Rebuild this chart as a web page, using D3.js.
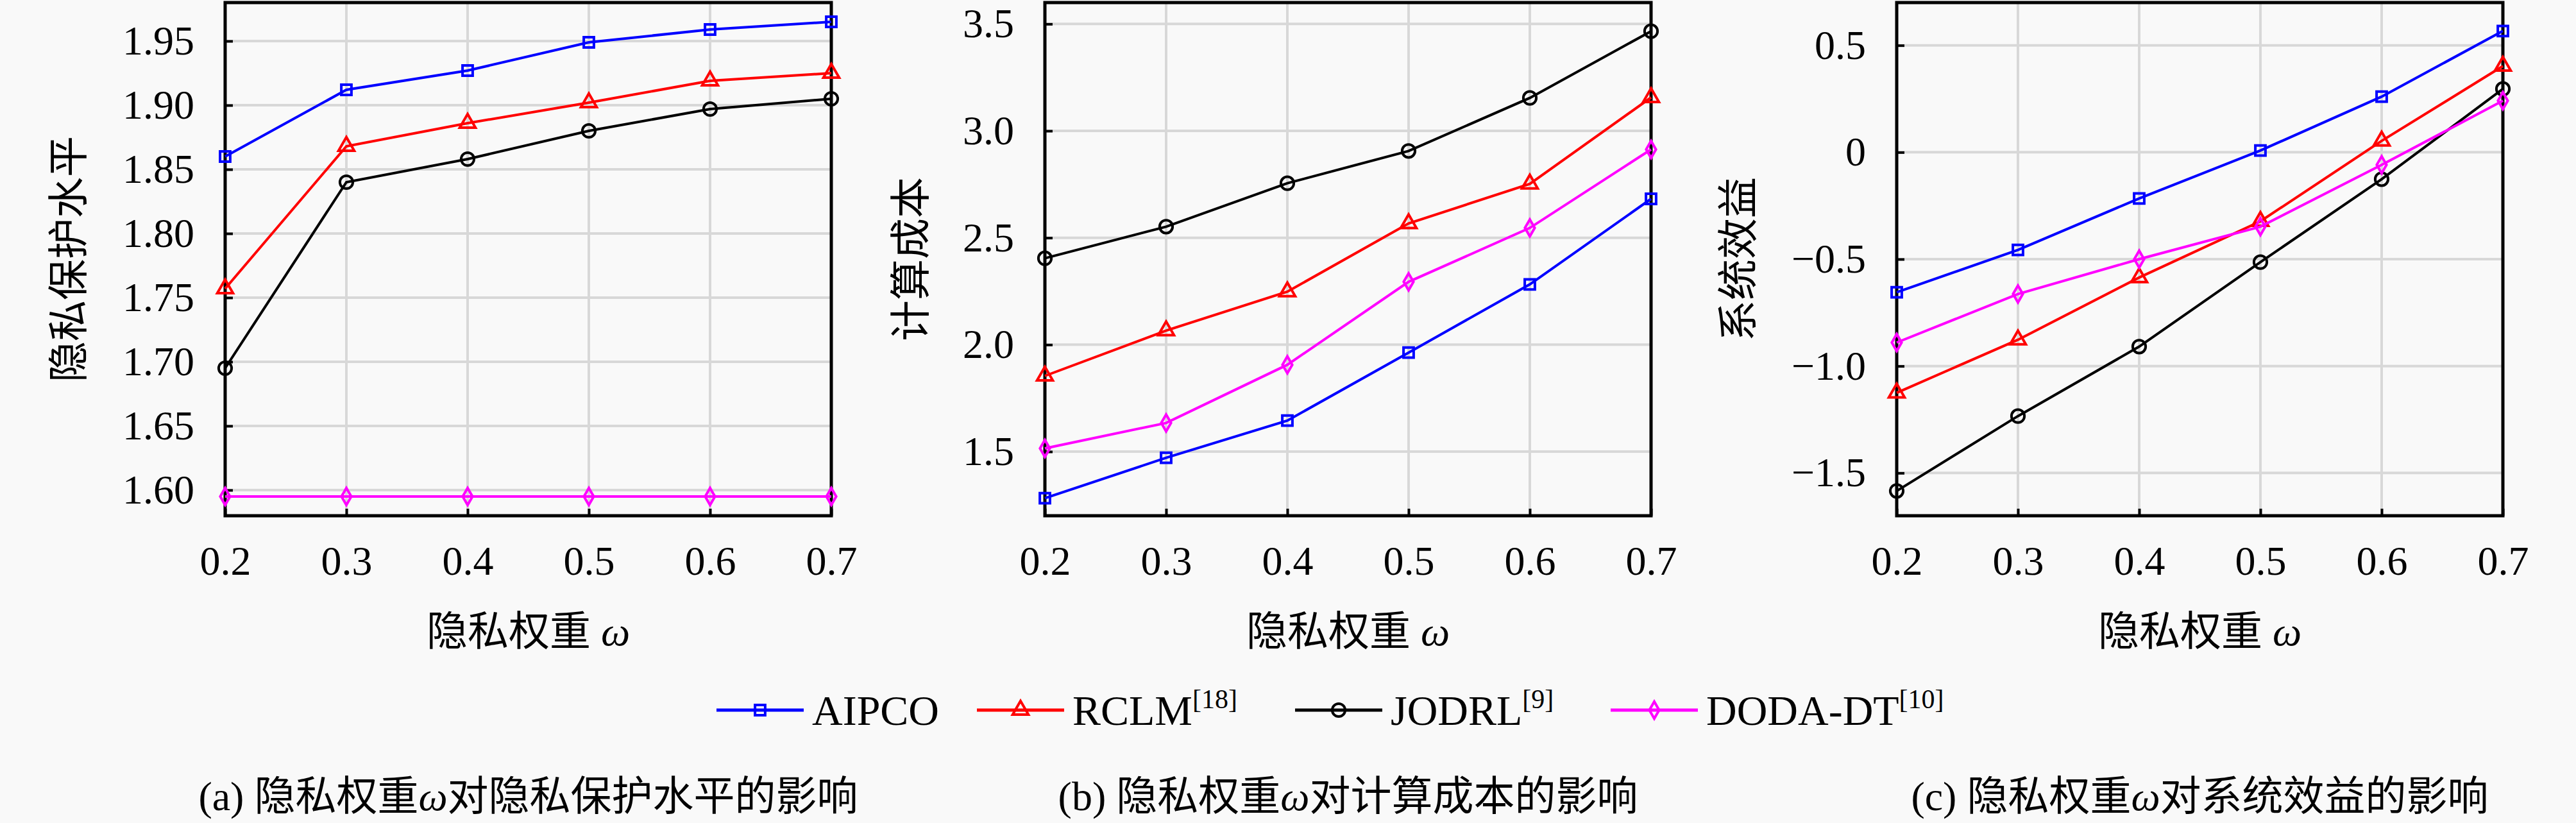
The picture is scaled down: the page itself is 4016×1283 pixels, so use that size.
<!DOCTYPE html>
<html>
<head>
<meta charset="utf-8">
<script src="https://cdn.jsdelivr.net/npm/d3@7"></script>
<style>
  body { margin: 0; background: #f9f9f9; }
  svg { display: block; background: #f9f9f9; }
</style>
</head>
<body>
<div id="chart"></div>
<script>
/* Data */
const omega = [0.2, 0.3, 0.4, 0.5, 0.6, 0.7];
const xTickLabels = ["0.2", "0.3", "0.4", "0.5", "0.6", "0.7"];

const methods = ["AIPCO", "RCLM", "JODRL", "DODA-DT"];
const methodRefs = ["", "[18]", "[9]", "[10]"];

// (a) privacy protection level
const privacyAIPCO = [1.860, 1.912, 1.927, 1.949, 1.959, 1.965];
const privacyRCLM  = [1.757, 1.868, 1.886, 1.902, 1.919, 1.925];
const privacyJODRL = [1.695, 1.840, 1.858, 1.880, 1.897, 1.905];
const privacyDODA  = [1.595, 1.595, 1.595, 1.595, 1.595, 1.595];

// (b) computation cost
const costAIPCO = [1.282, 1.471, 1.645, 1.963, 2.282, 2.682];
const costRCLM  = [1.854, 2.066, 2.248, 2.567, 2.752, 3.156];
const costJODRL = [2.404, 2.552, 2.755, 2.906, 3.154, 3.466];
const costDODA  = [1.515, 1.634, 1.906, 2.294, 2.546, 2.913];

// (c) system utility
const utilAIPCO = [-0.655, -0.457, -0.216, 0.008, 0.260, 0.567];
const utilRCLM  = [-1.125, -0.877, -0.586, -0.323, 0.053, 0.403];
const utilJODRL = [-1.584, -1.234, -0.909, -0.514, -0.126, 0.296];
const utilDODA  = [-0.890, -0.663, -0.500, -0.348, -0.059, 0.241];

const yTicksA = [1.60, 1.65, 1.70, 1.75, 1.80, 1.85, 1.90, 1.95];
const yTickLabelsA = ["1.60", "1.65", "1.70", "1.75", "1.80", "1.85", "1.90", "1.95"];
const yTicksB = [1.5, 2.0, 2.5, 3.0, 3.5];
const yTickLabelsB = ["1.5", "2.0", "2.5", "3.0", "3.5"];
const yTicksC = [-1.5, -1.0, -0.5, 0, 0.5];
const yTickLabelsC = ["\u22121.5", "\u22121.0", "\u22120.5", "0", "0.5"];

/* Dimensions */
const width = 4016;
const height = 1283;
const plotTop = 4;
const plotBottom = 804;
const plotWidth = 945;

const latin = "'Liberation Serif', 'DejaVu Serif', serif";
const cjk = "'Liberation Serif', 'Noto Sans CJK SC', sans-serif";

const colors = ["#0000ff", "#ff0000", "#000000", "#ff00ff"];
const symbols = [
  d3.symbol().type(d3.symbolSquare).size(250),
  d3.symbol().type(d3.symbolTriangle).size(260),
  d3.symbol().type(d3.symbolCircle).size(320),
  d3.symbol().type(d3.symbolDiamond).size(200),
];

const panels = [
  {
    left: 351, titleX: 107, domain: [1.58, 1.98],
    ticks: yTicksA, tickLabels: yTickLabelsA, yTitle: "隐私保护水平",
    series: [privacyAIPCO, privacyRCLM, privacyJODRL, privacyDODA],
    caption: ["(a) ", "隐私权重", "ω", "对隐私保护水平的影响"],
  },
  {
    left: 1629, titleX: 1420, domain: [1.2, 3.6],
    ticks: yTicksB, tickLabels: yTickLabelsB, yTitle: "计算成本",
    series: [costAIPCO, costRCLM, costJODRL, costDODA],
    caption: ["(b) ", "隐私权重", "ω", "对计算成本的影响"],
  },
  {
    left: 2957, titleX: 2710, domain: [-1.7, 0.7],
    ticks: yTicksC, tickLabels: yTickLabelsC, yTitle: "系统效益",
    series: [utilAIPCO, utilRCLM, utilJODRL, utilDODA],
    caption: ["(c) ", "隐私权重", "ω", "对系统效益的影响"],
  },
];

const svg = d3.select("#chart")
  .append("svg")
  .attr("width", width)
  .attr("height", height);

panels.forEach((p) => {
  const xScale = d3.scaleLinear()
    .domain([0.2, 0.7])
    .range([p.left, p.left + plotWidth]);

  const yScale = d3.scaleLinear()
    .domain(p.domain)
    .range([plotBottom, plotTop]);

  const g = svg.append("g");

  // Grid
  g.selectAll(".hgrid")
    .data(p.ticks)
    .enter()
    .append("line")
    .attr("x1", p.left)
    .attr("x2", p.left + plotWidth)
    .attr("y1", (d) => yScale(d))
    .attr("y2", (d) => yScale(d))
    .attr("stroke", "#d8d8d8")
    .attr("stroke-width", 4);

  g.selectAll(".vgrid")
    .data(omega)
    .enter()
    .append("line")
    .attr("x1", (d) => xScale(d))
    .attr("x2", (d) => xScale(d))
    .attr("y1", plotTop)
    .attr("y2", plotBottom)
    .attr("stroke", "#d8d8d8")
    .attr("stroke-width", 4);

  /* Axes */
  const yAxis = g.append("g")
    .attr("transform", `translate(${p.left},0)`)
    .call(
      d3.axisLeft(yScale)
        .tickValues(p.ticks)
        .tickFormat((d, i) => p.tickLabels[i])
        .tickSizeInner(-12)
        .tickSizeOuter(0)
        .tickPadding(48)
    );

  const xAxis = g.append("g")
    .attr("transform", `translate(0,${plotBottom})`)
    .call(
      d3.axisBottom(xScale)
        .tickValues(omega)
        .tickFormat((d, i) => xTickLabels[i])
        .tickSizeInner(-11)
        .tickSizeOuter(0)
        .tickPadding(47)
    );

  [yAxis, xAxis].forEach((ax) => {
    ax.select(".domain").remove();
    ax.attr("font-family", latin).attr("font-size", 64);
    ax.selectAll(".tick line").attr("stroke", "#000").attr("stroke-width", 4);
    ax.selectAll(".tick text").attr("fill", "#000");
  });

  // Frame
  g.append("rect")
    .attr("x", p.left)
    .attr("y", plotTop)
    .attr("width", plotWidth)
    .attr("height", plotBottom - plotTop)
    .attr("fill", "none")
    .attr("stroke", "#000")
    .attr("stroke-width", 5);

  // Lines + markers
  const line = d3.line()
    .x((d, i) => xScale(omega[i]))
    .y((d) => yScale(d));

  p.series.forEach((values, k) => {
    g.append("path")
      .datum(values)
      .attr("d", line)
      .attr("fill", "none")
      .attr("stroke", colors[k])
      .attr("stroke-width", 4);

    g.selectAll(".m" + k)
      .data(values)
      .enter()
      .append("path")
      .attr("transform", (d, i) => `translate(${xScale(omega[i])},${yScale(d)})`)
      .attr("d", symbols[k])
      .attr("fill", "none")
      .attr("stroke", colors[k])
      .attr("stroke-width", 4);
  });

  // Y-label
  svg.append("text")
    .attr("transform", `translate(${p.titleX},${(plotTop + plotBottom) / 2}) rotate(-90)`)
    .attr("text-anchor", "middle")
    .attr("dominant-baseline", "central")
    .attr("font-family", cjk)
    .attr("font-size", 64)
    .text(p.yTitle);

  // X-label
  const xLabel = svg.append("text")
    .attr("x", p.left + plotWidth / 2)
    .attr("y", 1006)
    .attr("text-anchor", "middle")
    .attr("font-family", cjk)
    .attr("font-size", 64);
  xLabel.append("tspan").text("隐私权重 ");
  xLabel.append("tspan").attr("font-style", "italic").attr("font-family", latin).text("ω");

  // Caption
  const cap = svg.append("text")
    .attr("x", p.left + plotWidth / 2)
    .attr("y", 1263)
    .attr("text-anchor", "middle")
    .attr("font-family", cjk)
    .attr("font-size", 64);
  cap.append("tspan").attr("font-family", latin).text(p.caption[0]);
  cap.append("tspan").text(p.caption[1]);
  cap.append("tspan").attr("font-style", "italic").attr("font-family", latin).text(p.caption[2]);
  cap.append("tspan").text(p.caption[3]);
});

/* Legend */
const legendX = [1117, 1523, 2019, 2511];
const legendY = 1107;
const legendLine = 136;

const legend = svg.selectAll(".legend")
  .data(methods)
  .enter()
  .append("g")
  .attr("transform", (d, i) => `translate(${legendX[i]},${legendY})`);

legend.append("line")
  .attr("x1", 0)
  .attr("x2", legendLine)
  .attr("stroke", (d, i) => colors[i])
  .attr("stroke-width", 5);

legend.append("path")
  .attr("transform", `translate(${legendLine / 2},0)`)
  .attr("d", (d, i) => symbols[i]())
  .attr("fill", "none")
  .attr("stroke", (d, i) => colors[i])
  .attr("stroke-width", 4);

const legendText = legend.append("text")
  .attr("x", legendLine + 13)
  .attr("y", 23)
  .attr("font-family", latin)
  .attr("font-size", 66);
legendText.append("tspan").text((d) => d);
legendText.append("tspan")
  .attr("font-size", 42)
  .attr("dy", -26)
  .text((d, i) => methodRefs[i]);
</script>
</body>
</html>
